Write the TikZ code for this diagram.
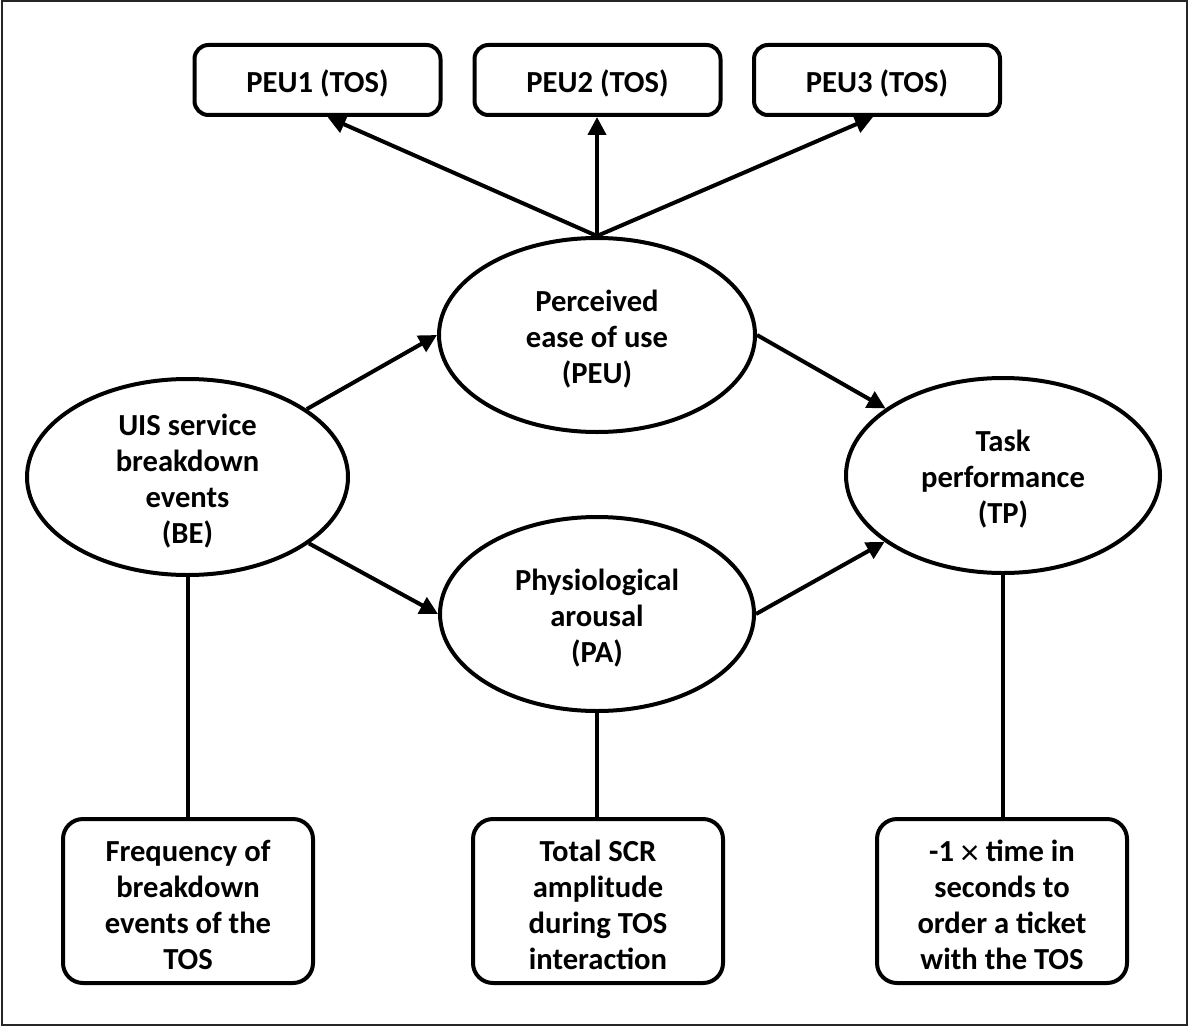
\documentclass[tikz,border=0pt]{standalone}
\usepackage{fontspec}
\setmainfont{Carlito}
\usetikzlibrary{arrows.meta,shapes.geometric}

\newcommand{\timessign}{\raisebox{-1.5pt}{\fontsize{18pt}{18pt}\selectfont\mdseries ×}}

\begin{document}
\begin{tikzpicture}[x=0.5pt,y=-0.5pt,
  txt/.style={font=\bfseries\fontsize{15.3pt}{18pt}\selectfont, align=center},
  inner/.style={label={[txt,yshift=-2pt]center:#1}},
  construct/.style={ellipse, draw, line width=2pt, inner sep=0pt, fill=white},
  indicator/.style={draw, line width=2pt, rounded corners=10pt, inner sep=0pt,
    minimum width=125pt, minimum height=82pt},
  topind/.style={draw, line width=2pt, rounded corners=7pt, inner sep=0pt,
    minimum width=123pt, minimum height=35pt},
  arrow/.style={line width=2pt, -{Triangle[length=9pt,width=9pt]}},
  link/.style={line width=2pt}]

\useasboundingbox (0,0) rectangle (1192,1027);
\draw[line width=1pt, black!85] (2,1) rectangle (1187,1025);

% reflective indicators of perceived ease of use
\node[topind, label={[txt,yshift=-1.5pt]center:PEU1 (TOS)}] (peuI)   at (317.5,80) {};
\node[topind, label={[txt,yshift=-1.5pt]center:PEU2 (TOS)}] (peuII)  at (597.5,80) {};
\node[topind, label={[txt,yshift=-1.5pt]center:PEU3 (TOS)}] (peuIII) at (877,80)   {};

% latent constructs
\node[construct, minimum width=160.5pt, minimum height=98pt,
  inner={UIS service\\breakdown\\events\\(BE)}] (be) at (187.5,477) {};
\node[construct, minimum width=158pt, minimum height=97pt,
  inner={Perceived\\ease of use\\(PEU)}] (peu) at (597,335) {};
\node[construct, minimum width=157pt, minimum height=97pt,
  inner={Physiological\\arousal\\(PA)}] (pa) at (597,614) {};
\node[construct, minimum width=157pt, minimum height=97.5pt,
  inner={Task\\performance\\(TP)}] (tp) at (1003,475.5) {};

% measures
\node[indicator, inner={Frequency of\\breakdown\\events of the\\TOS}] (freq) at (188,901) {};
\node[indicator, inner={Total SCR\\amplitude\\during TOS\\interaction}] (scr) at (598,901) {};
\node[indicator, inner={-1 \timessign{} time in\\seconds to\\order a ticket\\with the TOS}] (time) at (1002,901) {};

% structural paths
\draw[arrow] (be) -- (peu.west);
\draw[arrow] (be) -- (pa.west);
\draw[arrow] (peu.east) -- (tp);
\draw[arrow] (pa.east) -- (tp);

% measurement paths
\draw[arrow] (peu.north) -- ([xshift=5pt]peuI.south);
\draw[arrow] (peu.north) -- (peu.north |- peuII.south);
\draw[arrow] (peu.north) -- ([xshift=-2pt]peuIII.south);
\draw[link] (be) -- (be |- freq.north);
\draw[link] (pa) -- (pa |- scr.north);
\draw[link] (tp) -- (tp |- time.north);
\end{tikzpicture}
\end{document}
